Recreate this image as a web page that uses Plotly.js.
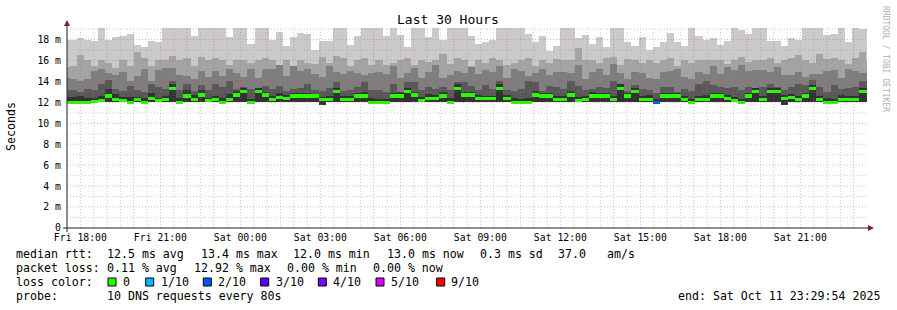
<!DOCTYPE html>
<html><head><meta charset="utf-8">
<script src="https://cdn.plot.ly/plotly-3.0.1.min.js"></script>
<style>html,body{margin:0;padding:0;background:#fff;}#chart{width:897px;height:310px;}</style>
</head><body><div id="chart"></div>
<script>
// ---- data (16-minute bins starting Fri 17:20) ----
const binStart = '2025-10-10T17:20:00Z';
const binMinutes = 16;
const medianRtt = [12.0,12.0,12.0,12.0,12.1,12.2,12.6,12.3,12.2,12.0, 12.3,12.0,12.4,12.2,12.3,13.3,12.0,12.6,12.3,12.7, 12.2,12.3,12.0,12.3,12.7,13.0,12.0,13.0,12.7,12.3, 12.5,12.35,12.6,12.6,12.6,12.6,12.3,12.3,13.0,12.3, 12.3,12.6,12.6,12.0,12.0,12.0,12.6,12.6,13.0,12.7, 12.2,12.35,12.35,12.6,12.0,13.3,12.7,12.7,12.35,12.35, 12.35,13.35,12.4,12.0,12.0,12.0,12.7,12.6,12.6,12.3, 12.3,12.7,12.2,12.3,12.6,12.6,12.6,12.3,13.35,12.6, 13.0,12.3,12.3,12.0,12.6,12.6,12.6,12.3,12.0,12.3, 12.3,12.6,12.6,12.4,12.2,12.0,12.6,13.0,12.3,13.0, 13.0,12.4,12.5,12.3,12.6,13.3,12.3,12.0,12.0,12.3, 12.3,12.25,13.0,13.0];
const lossTenths = [0,0,0,0,0,0,0,0,0,0, 0,0,0,0,0,0,0,0,0,0, 0,0,0,0,0,0,0,0,0,0, 0,0,0,0,0,0,0,0,0,0, 0,0,0,0,0,0,0,0,0,0, 0,0,0,0,0,0,0,0,0,0, 0,0,0,0,0,0,0,0,0,0, 0,0,0,0,0,0,0,0,0,0, 0,0,0,2,0,0,0,0,0,0, 0,0,0,0,0,0,0,0,0,0, 0,0,0,0,0,0,0,0,0,0, 0,0,0,0];
const minRtt = [12.0,12.0,12.0,12.0,12.0,12.0,12.0,12.0,12.0,12.0, 12.0,12.0,12.0,12.0,12.0,12.0,12.0,12.0,12.0,12.0, 12.0,12.0,12.0,12.0,12.0,12.0,12.0,12.0,12.0,12.0, 12.0,12.0,12.0,12.0,12.0,12.0,11.7,12.0,12.0,12.0, 12.0,12.0,12.0,12.0,12.0,12.0,12.0,12.0,12.0,12.0, 12.0,12.0,12.0,12.0,12.0,12.0,12.0,12.0,12.0,12.0, 12.0,12.0,12.0,12.0,12.0,12.0,12.0,12.0,12.0,12.0, 12.0,12.0,12.0,12.0,12.0,12.0,12.0,12.0,12.0,12.0, 12.0,12.0,12.0,12.0,12.0,12.0,12.0,12.0,12.0,12.0, 12.0,12.0,12.0,12.0,12.0,12.0,12.0,12.0,12.0,12.0, 12.0,11.75,12.0,12.0,12.0,12.0,12.0,12.0,12.0,12.0, 12.0,12.0,12.0,12.0];
// smoke band tops, outer (lightest) to inner (darkest)
const smokeTop1 = [18.0,18.0,18.1,18.0,17.9,19.5,18.0,18.2,18.3,18.5, 17.5,17.3,17.9,17.8,19.5,19.5,19.5,19.5,18.3,19.5, 19.5,19.5,19.5,18.2,19.5,19.5,17.6,19.5,19.5,18.0, 18.7,17.4,18.2,18.6,18.5,17.0,17.9,17.9,19.5,19.5, 17.5,18.3,19.5,19.5,19.5,18.3,19.5,18.4,17.3,19.5, 19.5,18.2,19.5,18.0,19.5,19.5,19.5,18.3,17.6,17.8, 18.0,19.5,19.5,19.5,19.5,18.5,17.8,18.3,16.9,17.4, 19.5,19.5,18.1,18.4,17.6,18.2,17.3,19.5,19.5,17.8, 17.4,18.2,17.0,17.3,17.8,18.6,17.8,17.4,19.5,18.3, 18.0,18.1,17.5,17.9,19.5,18.9,18.5,19.5,19.5,17.9, 17.9,17.4,18.1,18.0,19.5,19.5,19.5,18.4,18.5,19.5, 17.8,19.5,19.0,19.5];
const smokeTop2 = [15.4,15.5,16.5,16.0,15.5,16.0,15.8,15.3,16.0,15.5, 16.8,16.2,15.5,16.0,16.0,16.4,16.0,16.2,15.5,16.3, 16.0,16.2,16.0,15.6,16.0,16.0,15.8,16.0,16.2,16.0, 15.6,16.0,15.5,16.0,15.8,15.7,16.3,15.8,16.4,16.2, 15.5,16.0,16.2,15.6,16.0,15.6,15.8,16.0,16.2,15.6, 16.0,15.9,16.0,16.6,15.7,16.2,16.0,15.5,16.0,15.8, 16.2,16.0,15.6,15.8,16.0,16.2,15.5,16.0,15.8,16.1, 16.0,16.0,17.2,16.0,16.0,15.8,16.2,16.3,15.6,16.1, 16.0,15.8,16.0,15.8,16.0,16.2,15.5,16.0,15.8,16.0, 16.0,16.0,16.0,15.7,16.0,16.3,15.9,16.0,16.0,16.2, 15.8,16.0,16.2,16.5,16.0,15.8,16.6,16.1,16.2,16.0, 15.7,16.2,16.8,16.0];
const smokeTop3 = [14.3,14.2,14.0,14.2,15.0,15.2,14.8,14.6,14.9,14.0, 14.5,15.2,14.0,15.1,15.3,15.3,14.6,14.5,14.2,15.0, 14.4,15.0,14.5,15.2,14.8,14.4,15.2,14.3,15.2,15.2, 15.6,14.5,15.5,15.0,15.2,14.7,14.4,15.5,14.9,14.7, 15.0,14.8,14.6,14.8,14.9,14.7,15.5,14.3,14.8,15.3, 14.3,14.9,15.6,14.3,14.6,15.0,14.8,15.4,14.7,15.1, 14.9,15.5,14.3,15.2,15.0,14.5,14.8,15.2,14.6,14.9, 14.9,14.8,15.6,14.2,14.9,15.2,14.6,15.7,14.8,14.2, 14.9,14.8,14.3,14.2,14.9,15.0,15.2,14.4,14.2,14.9, 14.7,15.5,14.7,15.4,15.1,15.6,15.0,15.1,15.1,14.9, 15.4,14.6,14.6,14.9,14.4,14.7,14.7,15.0,15.1,14.3, 15.2,15.0,14.8,15.0];
const smokeTop4 = [13.2,13.2,13.0,13.3,13.2,13.8,14.1,13.3,13.1,13.6, 13.2,13.0,13.8,13.5,13.3,14.0,13.2,13.8,13.1,13.7, 13.2,13.8,13.5,14.0,13.3,13.5,13.3,13.2,13.6,13.3, 13.6,13.1,13.3,13.4,13.8,13.2,13.1,13.4,13.9,13.1, 13.2,13.5,13.9,13.2,13.2,13.0,13.8,13.0,13.9,13.9, 13.2,13.5,13.3,13.5,13.2,13.9,13.9,13.6,13.2,13.7, 13.3,14.0,13.2,13.1,13.3,14.0,13.9,13.1,13.6,13.5, 13.3,14.0,13.6,13.2,13.3,13.5,13.4,14.0,13.4,13.1, 13.7,13.3,13.2,12.9,13.5,13.5,13.0,13.3,13.1,13.8, 14.0,13.7,13.5,13.4,13.5,13.2,13.5,13.4,13.5,13.8, 13.5,13.2,13.5,13.8,13.7,14.1,13.5,13.0,13.7,13.3, 13.4,13.5,14.0,14.0];
const smokeTop5 = [12.5,12.5,12.6,12.4,12.4,12.6,13.3,12.8,12.5,12.5, 12.5,12.4,12.9,12.4,12.6,13.8,12.4,13.2,12.7,13.2, 12.4,12.6,12.4,12.8,13.1,13.4,12.3,13.4,13.0,12.6, 12.9,12.7,12.9,12.9,12.9,12.8,12.5,12.6,13.4,12.6, 12.6,12.9,13.0,12.4,12.3,12.3,12.9,13.0,13.4,13.0, 12.5,12.8,12.7,13.0,12.4,13.8,13.0,13.0,12.7,12.6, 12.6,13.8,12.7,12.4,12.3,12.4,13.1,12.9,12.9,12.6, 12.6,13.1,12.5,12.6,13.0,12.9,12.9,12.6,13.8,12.9, 13.4,12.6,12.7,12.3,12.9,12.9,12.9,12.6,12.3,12.6, 12.7,12.9,12.9,12.7,12.5,12.3,12.9,13.4,12.6,13.4, 13.4,12.7,12.8,12.6,12.9,13.7,12.6,12.4,12.3,12.7, 12.6,12.6,13.4,13.4];
const smokeColors = ['#cacaca','#a4a4a4','#7e7e7e','#585858','#323232'];
const lossColorMap = {0:'#26ff00',1:'#00b8ff',2:'#0059ff',3:'#5e00ff',4:'#7e00ff',5:'#dd00ff',9:'#ff0000'};
const legendLossKeys = [0,1,2,3,4,5,9];
const legendLossLabels = ['0','1/10','2/10','3/10','4/10','5/10','9/10'];
const xStart = '2025-10-10 17:29:54', xEnd = '2025-10-11 23:29:54';
const xTickTimes = ['2025-10-10 18:00','2025-10-10 21:00','2025-10-11 00:00','2025-10-11 03:00','2025-10-11 06:00','2025-10-11 09:00','2025-10-11 12:00','2025-10-11 15:00','2025-10-11 18:00','2025-10-11 21:00'];
const xTickLabels = ['Fri 18:00','Fri 21:00','Sat 00:00','Sat 03:00','Sat 06:00','Sat 09:00','Sat 12:00','Sat 15:00','Sat 18:00','Sat 21:00'];
const yTickVals = [0,2,4,6,8,10,12,14,16,18];
const yTickLabels = ['0','2 m','4 m','6 m','8 m','10 m','12 m','14 m','16 m','18 m'];
const yMax = 19.1;
const legendRtt = ['median rtt:','12.5 ms avg','13.4 ms max','12.0 ms min','13.0 ms now','0.3 ms sd','37.0','am/s'];
const legendLoss = ['packet loss:','0.11 % avg','12.92 % max','0.00 % min','0.00 % now'];
const probeText = ['probe:','10 DNS requests every 80s'];
const endText = 'end: Sat Oct 11 23:29:54 2025';

// ---- build ----
const t0 = Date.parse(binStart), stepMs = binMinutes*60000;
const fmt = ms => new Date(ms).toISOString().slice(0,19).replace('T',' ');
const xs = medianRtt.map((_,i)=>fmt(t0 + i*stepMs + stepMs/2));
const tops = [smokeTop1,smokeTop2,smokeTop3,smokeTop4,smokeTop5];
const traces = tops.map((top,b)=>({
  type:'bar', x:xs, base:minRtt, y:top.map((v,i)=>v-minRtt[i]), width:stepMs,
  marker:{color:smokeColors[b], line:{width:0}}, hoverinfo:'skip', showlegend:false
}));
const medHalf = 0.15;
traces.push({type:'bar', x:xs, base:medianRtt.map(v=>v-medHalf), y:medianRtt.map(()=>2*medHalf), width:stepMs,
  marker:{color:lossTenths.map(l=>lossColorMap[l]), line:{width:0}}, hoverinfo:'skip', showlegend:false});

const PL=67, PT=28, PW=800, PH=200;
const px = p => (p-PL)/PW, py = p => (PT+PH-p)/PH;
const shapes = [];
const gs = Date.parse('2025-10-10T17:30:00Z'), ge = Date.parse('2025-10-11T23:29:54Z');
for (let t=gs; t<=ge; t+=1800000){
  const major = (t/1800000)%2===0;
  shapes.push({type:'line', xref:'x', yref:'paper', x0:fmt(t), x1:fmt(t), y0:0, y1:1, layer:'above',
    line:{color: major?'rgba(222,79,79,0.45)':'rgba(143,143,143,0.45)', width:1, dash:'1px,2px'}});
}
for (let v=1; v<=19; v++){
  const major = v%2===0;
  shapes.push({type:'line', xref:'paper', yref:'y', x0:0, x1:1, y0:v, y1:v, layer:'above',
    line:{color: major?'rgba(222,79,79,0.45)':'rgba(143,143,143,0.45)', width:1, dash:'1px,2px'}});
}
shapes.push({type:'line', xref:'paper', yref:'paper', x0:px(63), x1:px(869), y0:py(228), y1:py(228), line:{color:'#1f1f1f', width:1}});
shapes.push({type:'line', xref:'paper', yref:'paper', x0:px(67), x1:px(67), y0:py(232), y1:py(24), line:{color:'#1f1f1f', width:1}});
shapes.push({type:'path', xref:'paper', yref:'paper', path:`M ${px(64)} ${py(26)} L ${px(70)} ${py(26)} L ${px(67)} ${py(20)} Z`, fillcolor:'#801f1f', line:{width:0}});
shapes.push({type:'path', xref:'paper', yref:'paper', path:`M ${px(868)} ${py(225)} L ${px(868)} ${py(231)} L ${px(874)} ${py(228)} Z`, fillcolor:'#801f1f', line:{width:0}});

const mono = 'DejaVu Sans Mono';
const LF = {family:mono, size:11.6, color:'#000'};
const ann = [];
const addText = (x,y,text,font,extra) => ann.push(Object.assign({xref:'paper', yref:'paper', x:px(x), y:py(y), text, showarrow:false, xanchor:'left', yanchor:'middle', font, borderpad:0}, extra||{}));
const rttX = [16,107.3,200.7,293.3,386.7,480,558.3,607.3];
legendRtt.forEach((s,i)=>addText(rttX[i]-1,254.3,s,LF));
const lossX = [16,107.3,193.7,286.7,372.7];
legendLoss.forEach((s,i)=>addText(lossX[i]-1,268.3,s,LF));
addText(15,282.3,'loss color:',LF);
const boxX = [108,145.7,203.3,260.7,318.3,376,436.7];
const labX = [123.3,161,218.3,276,333.3,391,451];
legendLossKeys.forEach((k,i)=>{
  shapes.push({type:'rect', xref:'paper', yref:'paper', x0:px(boxX[i]), x1:px(boxX[i]+8), y0:py(278), y1:py(286), fillcolor:lossColorMap[k], line:{color:'#000', width:1}});
  addText(labX[i]-1,282.3,legendLossLabels[i],LF);
});
addText(15,296.3,probeText[0],LF);
addText(106.3,296.3,probeText[1],LF);
addText(677.3,296.3,endText,LF);
ann.push({xref:'paper', yref:'paper', x:px(448), y:py(19), text:'Last 30 Hours', showarrow:false, xanchor:'center', yanchor:'middle', font:{family:mono, size:13, color:'#000'}});
ann.push({xref:'paper', yref:'paper', x:px(11), y:py(126), text:'Seconds', showarrow:false, xanchor:'center', yanchor:'middle', textangle:-90, font:{family:mono, size:11.6, color:'#000'}});
ann.push({xref:'paper', yref:'paper', x:px(886), y:py(59), text:'RRDTOOL / TOBI OETIKER', showarrow:false, xanchor:'center', yanchor:'middle', textangle:90, font:{family:mono, size:8, color:'#b0b0b0'}});

const layout = {
  width:897, height:310, margin:{l:PL, r:897-PL-PW, t:PT, b:310-PT-PH, pad:0},
  paper_bgcolor:'#fff', plot_bgcolor:'#fff', barmode:'overlay', bargap:0, showlegend:false,
  xaxis:{type:'date', range:[xStart,xEnd], tickmode:'array', tickvals:xTickTimes, ticktext:xTickLabels,
    showgrid:false, zeroline:false, showline:false, ticks:'', ticklabelstandoff:2,
    tickfont:{family:mono, size:9.8, color:'#000'}},
  yaxis:{range:[0,yMax], tickmode:'array', tickvals:yTickVals, ticktext:yTickLabels,
    showgrid:false, zeroline:false, showline:false, ticks:'', ticklabelstandoff:5,
    tickfont:{family:mono, size:9.8, color:'#000'}},
  shapes, annotations:ann
};
Plotly.newPlot('chart', traces, layout, {staticPlot:true, displayModeBar:false});
</script></body></html>
